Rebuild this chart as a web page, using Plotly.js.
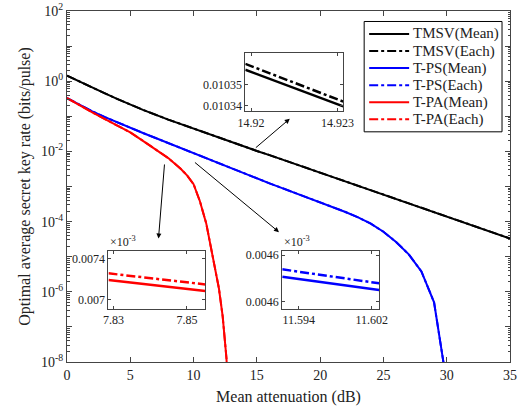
<!DOCTYPE html>
<html>
<head>
<meta charset="utf-8">
<script src="https://cdn.plot.ly/plotly-3.0.1.min.js"></script>
<style>html,body{margin:0;padding:0;background:#fff;}#chart{width:530px;height:413px;}</style>
</head>
<body>
<div id="chart"></div>
<script>
// ---- Main plot data ----
const attTMSV = [0,1,2,3,4,5,6,8,10,12,14,15,16,18,20,22,24,26,28,30,32,34,35];
const tmsvMean = [1.445,0.966,0.653,0.447,0.309,0.216,0.153,0.0804,0.0442,0.0248,0.0140,0.0103,0.00785,0.00442,0.00248,0.00140,7.85e-4,4.42e-4,2.48e-4,1.40e-4,7.85e-5,4.42e-5,3.31e-5];
const tmsvEach = [1.446,0.967,0.6535,0.4473,0.3092,0.2162,0.1531,0.08046,0.04423,0.02482,0.01401,0.01031,0.007856,0.004423,0.002482,0.001401,7.856e-4,4.423e-4,2.482e-4,1.401e-4,7.856e-5,4.423e-5,3.312e-5];

const attPS = [0,1,2,3,4,5,6,7,8,9,10,11,12,13,14,15,16,17,18,19,20,21,22,23,24,25,26,27,28,29,30];
const psMean = [0.331,0.209,0.138,0.0944,0.0661,0.0468,0.0335,0.0240,0.0172,0.0123,0.00881,0.00631,0.00452,0.00324,0.00234,0.00170,0.00123,9.02e-4,6.61e-4,4.84e-4,3.55e-4,2.60e-4,1.88e-4,1.32e-4,8.71e-5,5.13e-5,2.63e-5,1.17e-5,3.80e-6,5.01e-7,2.5e-9];
const psEach = [0.3312,0.2091,0.1381,0.09446,0.06614,0.04683,0.03352,0.02402,0.01721,0.01231,0.008817,0.006315,0.004524,0.003243,0.002342,0.001701,0.001231,9.027e-4,6.615e-4,4.844e-4,3.553e-4,2.602e-4,1.881e-4,1.321e-4,8.717e-5,5.134e-5,2.632e-5,1.171e-5,3.803e-6,5.014e-7,2.502e-9];

const attPA = [0,1,2,3,4,5,6,7,8,9,9.5,10,10.5,11,11.5,12,12.3,12.6,12.8];
const paMean = [0.331,0.204,0.129,0.0832,0.0550,0.0347,0.0200,0.0112,0.00646,0.00316,0.00204,0.00117,3.80e-4,8.91e-5,1.12e-5,1.26e-6,2.0e-7,1.26e-8,3.2e-10];
const paEach = [0.3312,0.2042,0.1291,0.08328,0.05506,0.03474,0.02003,0.01122,0.006472,0.003166,0.002044,0.001172,3.806e-4,8.925e-5,1.122e-5,1.262e-6,2.003e-7,1.262e-8,3.205e-10];

// ---- Inset data ----
const inTmsvX = [14.9198, 14.9232];
const inTmsvMean = [0.010357, 0.0103395];
const inTmsvEach = [0.0103598, 0.0103418];
const inTmsvTicksX = [14.92, 14.923];
const inTmsvTicksY = [0.01034, 0.01035];

const inPaX = [7.8286, 7.855];
const inPaMean = [0.007188, 0.007081];
const inPaEach = [0.007254, 0.007146];
const inPaTicksX = [7.83, 7.85];
const inPaTicksY = [0.0070, 0.0074];
const inPaTickText = ['0.007', '0.0074'];

const inPsX = [11.5922, 11.6028];
const inPsMean = [0.0046014, 0.0045900];
const inPsEach = [0.0046078, 0.0045958];
const inPsTicksX = [11.594, 11.602];
const inPsTicksY = [0.00458, 0.00462];
const inPsTickText = ['0.0046', '0.0046'];

const legendNames = ['TMSV(Mean)','TMSV(Each)','T-PS(Mean)','T-PS(Each)','T-PA(Mean)','T-PA(Each)'];
const legendColors = ['#000000','#000000','#0000ff','#0000ff','#ff0000','#ff0000'];
const legendDash = ['solid','dashdot','solid','dashdot','solid','dashdot'];

const FONT = 'Liberation Serif, Times New Roman, serif';
const AX = '#444';
const BLACK = '#000000', BLUE = '#0000ff', RED = '#ff0000';

function tr(x, y, name, color, dash, xa, ya, w) {
  return {x: x, y: y, name: name, type: 'scatter', mode: 'lines',
    line: {color: color, width: w, dash: dash},
    xaxis: xa, yaxis: ya, showlegend: false, hoverinfo: 'skip'};
}

const data = [
  tr(attTMSV, tmsvMean, legendNames[0], BLACK, 'solid', 'x', 'y', 2),
  tr(attTMSV, tmsvEach, legendNames[1], BLACK, 'dashdot', 'x', 'y', 2),
  tr(attPS, psMean, legendNames[2], BLUE, 'solid', 'x', 'y', 2),
  tr(attPS, psEach, legendNames[3], BLUE, 'dashdot', 'x', 'y', 2),
  tr(attPA, paMean, legendNames[4], RED, 'solid', 'x', 'y', 2),
  tr(attPA, paEach, legendNames[5], RED, 'dashdot', 'x', 'y', 2),
  tr(inTmsvX, inTmsvMean, 'a', BLACK, 'solid', 'x2', 'y2', 2.5),
  tr(inTmsvX, inTmsvEach, 'b', BLACK, 'dashdot', 'x2', 'y2', 2.5),
  tr(inPaX, inPaMean, 'c', RED, 'solid', 'x3', 'y3', 2.5),
  tr(inPaX, inPaEach, 'd', RED, 'dashdot', 'x3', 'y3', 2.5),
  tr(inPsX, inPsMean, 'e', BLUE, 'solid', 'x4', 'y4', 2.5),
  tr(inPsX, inPsEach, 'f', BLUE, 'dashdot', 'x4', 'y4', 2.5)
];

const decVals = [1e-8,1e-7,1e-6,1e-5,1e-4,1e-3,1e-2,1e-1,1,10,100];
const decText = ['10<sup>-8</sup>','','10<sup>-6</sup>','','10<sup>-4</sup>','','10<sup>-2</sup>','','10<sup>0</sup>','','10<sup>2</sup>'];

function insetAxes(domX, domY, xr, yr, tvx, tvy, ttx, tty, anchX, anchY) {
  const common = {showline: true, linecolor: AX, linewidth: 1, mirror: 'allticks',
    ticks: 'inside', ticklen: 3, tickcolor: AX, showgrid: false, zeroline: false,
    tickfont: {family: FONT, size: 12, color: '#222'}, fixedrange: true};
  const xa = Object.assign({}, common, {domain: domX, range: xr, tickmode: 'array', tickvals: tvx, ticktext: ttx, anchor: anchY});
  const ya = Object.assign({}, common, {domain: domY, range: yr, tickmode: 'array', tickvals: tvy, ticktext: tty, anchor: anchX});
  return [xa, ya];
}

const [x2, y2] = insetAxes([0.4025, 0.6235], [0.7140, 0.8791], [14.9198, 14.9232], [0.0103371, 0.0103648],
  inTmsvTicksX, inTmsvTicksY, ['14.92','14.923'], ['0.01034','0.01035'], 'x2', 'y2');
const [x3, y3] = insetAxes([0.0936, 0.3123], [0.1508, 0.3158], [7.8286, 7.855], [0.006905, 0.007471],
  inPaTicksX, inPaTicksY, ['7.83','7.85'], inPaTickText, 'x3', 'y3');
const [x4, y4] = insetAxes([0.4859, 0.7046], [0.1508, 0.3158], [11.5922, 11.6028], [0.0045737, 0.0046234],
  inPsTicksX, inPsTicksY, ['11.594','11.602'], inPsTickText, 'x4', 'y4');

function arrow(tx, ty, hx, hy) {
  return {x: hx, y: hy, ax: tx, ay: ty, xref: 'x', yref: 'y', axref: 'x', ayref: 'y',
    showarrow: true, arrowhead: 2, arrowsize: 1, arrowwidth: 1, arrowcolor: '#000', text: ''};
}

// ---- Custom legend (box, line samples, labels) ----
const legBox = {x0: 0.6708, x1: 0.9820, y0: 0.6558, y1: 0.9701};
const legRowTop = 0.9346, legRowStep = 0.04865;
const shapes = [{type: 'rect', xref: 'paper', yref: 'paper', x0: legBox.x0, x1: legBox.x1, y0: legBox.y0, y1: legBox.y1,
  line: {color: '#000', width: 1}, fillcolor: '#fff', layer: 'above'}];
const annotations = [
  arrow(14.8, -1.93, 17.6, -1.07),
  arrow(7.71, -2.33, 7.23, -4.48),
  arrow(9.99, -2.28, 16.75, -4.30),
  {xref: 'paper', yref: 'paper', x: 0.0936, y: 0.3158, xanchor: 'left', yanchor: 'bottom',
    text: '×10<sup>-3</sup>', showarrow: false, font: {family: FONT, size: 12, color: '#222'}},
  {xref: 'paper', yref: 'paper', x: 0.4859, y: 0.3158, xanchor: 'left', yanchor: 'bottom',
    text: '×10<sup>-3</sup>', showarrow: false, font: {family: FONT, size: 12, color: '#222'}}
];
legendNames.forEach(function (nm, i) {
  const yy = legRowTop - i * legRowStep;
  shapes.push({type: 'line', xref: 'paper', yref: 'paper', x0: 0.6821, x1: 0.7723, y0: yy, y1: yy,
    line: {color: legendColors[i], width: 2, dash: legendDash[i]}, layer: 'above'});
  annotations.push({xref: 'paper', yref: 'paper', x: 0.7768, y: yy, xanchor: 'left', yanchor: 'middle',
    text: nm, showarrow: false, font: {family: FONT, size: 15, color: '#222'}});
});

const layout = {
  width: 530, height: 413,
  margin: {l: 66.5, r: 20, t: 10.5, b: 51, pad: 0},
  paper_bgcolor: '#fff', plot_bgcolor: '#fff',
  font: {family: FONT, size: 14, color: '#222'},
  showlegend: false,
  xaxis: {domain: [0, 1], range: [0, 35], dtick: 5, tick0: 0, ticks: 'inside', ticklen: 5,
    tickcolor: AX, showline: true, linecolor: AX, linewidth: 1, mirror: 'allticks',
    showgrid: false, zeroline: false, tickfont: {family: FONT, size: 14, color: '#222'},
    title: {text: 'Mean attenuation (dB)', font: {family: FONT, size: 16, color: '#222'}, standoff: 9},
    anchor: 'y'},
  yaxis: {domain: [0, 1], type: 'log', range: [-8, 2], tickmode: 'array', tickvals: decVals, ticktext: decText,
    ticks: 'inside', ticklen: 5, tickcolor: AX, showline: true, linecolor: AX, linewidth: 1,
    mirror: 'allticks', showgrid: false, zeroline: false,
    tickfont: {family: FONT, size: 14, color: '#222'},
    minor: {ticks: 'inside', ticklen: 2.5, tickcolor: AX, dtick: 'D1', showgrid: false},
    title: {text: 'Optimal average secret key rate (bits/pulse)', font: {family: FONT, size: 16, color: '#222'}, standoff: 6},
    anchor: 'x'},
  xaxis2: x2, yaxis2: y2, xaxis3: x3, yaxis3: y3, xaxis4: x4, yaxis4: y4,
  shapes: shapes,
  annotations: annotations
};

Plotly.newPlot('chart', data, layout, {staticPlot: true, displayModeBar: false});
</script>
</body>
</html>
